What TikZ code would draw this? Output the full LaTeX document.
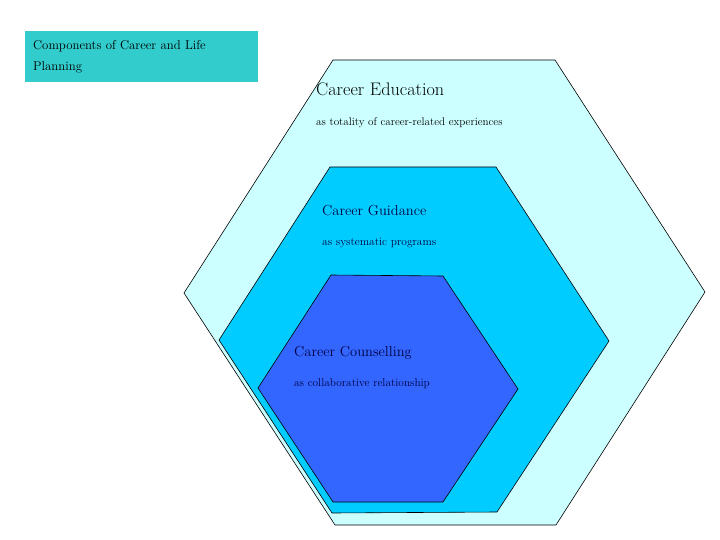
\documentclass[tikz,border=0pt]{standalone}
\usepackage{tikz}
\definecolor{titlefill}{HTML}{33CCCC}
\definecolor{edufill}{HTML}{CCFFFF}
\definecolor{guidefill}{HTML}{00CCFF}
\definecolor{counselfill}{HTML}{3366FF}
\definecolor{navytext}{HTML}{000040}

\begin{document}
\begin{tikzpicture}[
    x=1pt, y=-1pt,
    hexa/.style={draw=black, line width=0.6pt, line join=miter},
    head/.style={anchor=west, inner sep=0pt, font=\fontsize{14.5}{16}\selectfont},
    sub/.style={anchor=west, inner sep=0pt, font=\fontsize{11.4}{13}\selectfont},
    titlebox/.style={anchor=north west, fill=titlefill, align=left,
                     text width=217pt, minimum height=51pt, inner xsep=8pt,
                     inner ysep=0pt, font=\fontsize{12.8}{21}\selectfont},
  ]
  \useasboundingbox (0,0) rectangle (720,540);

  %% ---- nested hexagons -----------------------------------------------
  \draw[hexa, fill=edufill]
    (333,60) -- (555,60) -- (705,292) -- (556,525) -- (335,525) -- (184,293) -- cycle;
  \draw[hexa, fill=guidefill]
    (330,167) -- (496,167) -- (609,341) -- (497,512) -- (332,513) -- (219,340) -- cycle;
  \draw[hexa, fill=counselfill]
    (331,275) -- (443,276) -- (518,389) -- (443,502) -- (333,502) -- (258,388) -- cycle;

  %% ---- title -----------------------------------------------------------
  \node[titlebox] (title) at (25,31) {Components of Career and Life\\Planning};

  %% ---- labels ----------------------------------------------------------
  \node[head, font=\fontsize{18.2}{20}\selectfont] (edu) at (316,89) {Career Education};
  \node[sub, font=\fontsize{11.1}{13}\selectfont] (edusub) at (316,123)
    {as totality of career-related experiences};

  \node[head, navytext] (guide) at (322,211) {Career Guidance};
  \node[sub, navytext] (guidesub) at (322,243) {as systematic programs};

  \node[head, navytext] (counsel) at (294,353) {Career Counselling};
  \node[sub, navytext, font=\fontsize{11.3}{13}\selectfont] (counselsub) at (294,384)
    {as collaborative relationship};

\end{tikzpicture}
\end{document}
